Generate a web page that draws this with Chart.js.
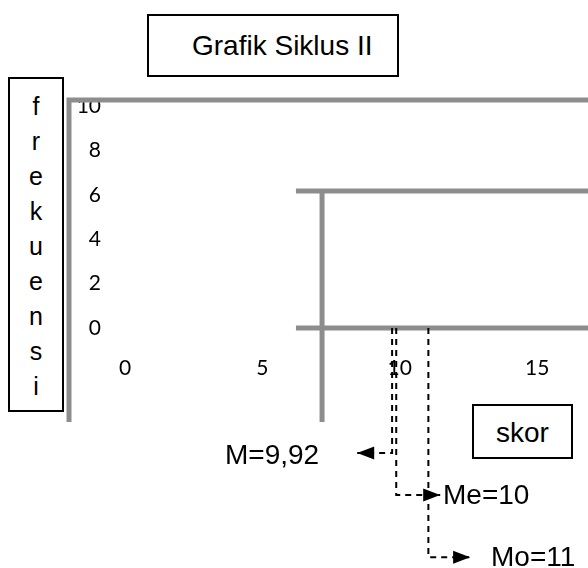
<!DOCTYPE html>
<html>
<head>
<meta charset="utf-8">
<script src="https://cdn.jsdelivr.net/npm/chart.js@4.4.0/dist/chart.umd.min.js"></script>
<style>
  html, body { margin: 0; padding: 0; background: #fff; }
  #wrap { position: relative; width: 588px; height: 568px; overflow: hidden; }
  #grafik { position: absolute; left: 0; top: 0; }
  .kotak { position: absolute; box-sizing: border-box; border: 2px solid #000; background: #fff;
           font-family: "Liberation Sans", Arial, sans-serif; color: #000; white-space: nowrap; }
  .teks { position: absolute; font-family: "Liberation Sans", Arial, sans-serif; font-size: 28px;
          line-height: 32px; color: #000; white-space: nowrap; }
</style>
</head>
<body>
<div id="wrap">
  <canvas id="grafik" width="588" height="568"></canvas>
  <div class="kotak" style="left:147px; top:14px; width:252px; height:63px; font-size:28px; line-height:59px; padding-left:43px;">Grafik Siklus II</div>
  <div class="kotak" style="left:8px; top:77px; width:56px; height:335px; font-size:25px; line-height:35px; padding-top:10px; text-align:center;">f<br>r<br>e<br>k<br>u<br>e<br>n<br>s<br>i</div>
  <div class="kotak" style="left:472px; top:404px; width:101px; height:55px; font-size:28px; line-height:48px; padding-top:3px; text-align:center;">skor</div>
  <div class="teks" style="left:225px; top:439px;">M=9,92</div>
  <div class="teks" style="left:443px; top:479px;">Me=10</div>
  <div class="teks" style="left:491px; top:541px;">Mo=11</div>
</div>
<script>
// sumbu
const xTicks = [0, 5, 10, 15];
const yTicks = [0, 2, 4, 6, 8, 10];

// garis abu-abu (batang grafik)
const garisLuarX = [-2.04, -2.04, 17];
const garisLuarY = [-4.23, 10.27, 10.27];
const garisTengahX = [6.22, 17];
const garisTengahY = [6.17, 6.17];
const tiangX = [7.17, 7.17];
const tiangY = [-4.23, 6.17];
const garisDasarX = [6.22, 17];
const garisDasarY = [0, 0];

// M, Me, Mo (garis putus-putus + panah)
const ukuranX = [9.72, 9.87, 11.04];
const ukuranBarisY = [-5.63, -7.52, -10.32];
const panahX = [8.45, 11.47, 12.56];

const abu = "#8d8d8d";

function titik(xs, ys) {
  return xs.map((x, i) => ({ x: x, y: ys[i] }));
}

function garisAbu(xs, ys) {
  return {
    data: titik(xs, ys),
    showLine: true,
    borderColor: abu,
    borderWidth: 5,
    borderJoinStyle: "miter",
    borderCapStyle: "butt",
    pointRadius: 0,
    clip: false,
  };
}

function garisPutus(i) {
  return {
    data: titik([ukuranX[i], ukuranX[i], panahX[i]], [0, ukuranBarisY[i], ukuranBarisY[i]]),
    showLine: true,
    borderColor: "#000",
    borderWidth: 2,
    borderDash: [6, 5],
    pointRadius: 0,
    clip: false,
  };
}

// panah di ujung garis putus-putus
const arahPanah = [-1, 1, 1];
const panahPlugin = {
  id: "panah",
  afterDatasetsDraw(chart) {
    const ctx = chart.ctx;
    const sx = chart.scales.x;
    const sy = chart.scales.y;
    ctx.save();
    ctx.fillStyle = "#000";
    panahX.forEach((v, i) => {
      const px = sx.getPixelForValue(v);
      const py = sy.getPixelForValue(ukuranBarisY[i]);
      const d = arahPanah[i];
      ctx.beginPath();
      ctx.moveTo(px, py);
      ctx.lineTo(px - d * 17, py - 6.5);
      ctx.lineTo(px - d * 17, py + 6.5);
      ctx.closePath();
      ctx.fill();
    });
    ctx.restore();
  },
};

function nolPadding(s) {
  s.paddingLeft = 0;
  s.paddingRight = 0;
  s.paddingTop = 0;
  s.paddingBottom = 0;
}

new Chart(document.getElementById("grafik"), {
  type: "scatter",
  data: {
    datasets: [
      garisPutus(0),
      garisPutus(1),
      garisPutus(2),
      garisAbu(garisLuarX, garisLuarY),
      garisAbu(garisTengahX, garisTengahY),
      garisAbu(tiangX, tiangY),
      garisAbu(garisDasarX, garisDasarY),
    ],
  },
  options: {
    responsive: false,
    devicePixelRatio: 1,
    animation: false,
    events: [],
    layout: { padding: 0 },
    plugins: {
      legend: { display: false },
      tooltip: { enabled: false },
    },
    scales: {
      x: {
        type: "linear",
        position: "bottom",
        bounds: "data",
        grid: { display: false, drawTicks: false },
        border: { display: false },
        ticks: { color: "#000", font: { family: "Lato", size: 21 }, padding: 2, maxRotation: 0, autoSkip: false },
        afterDataLimits: (s) => { s.min = -0.73; s.max = 16.85; },
        afterBuildTicks: (s) => { s.ticks = xTicks.map((v) => ({ value: v })); },
        afterFit: (s) => { s.height = 214; nolPadding(s); },
      },
      y: {
        type: "linear",
        position: "left",
        bounds: "data",
        grid: { display: false, drawTicks: false },
        border: { display: false },
        ticks: { color: "#000", font: { family: "Lato", size: 21 }, padding: 4, autoSkip: false },
        afterDataLimits: (s) => { s.min = -1.17; s.max = 14.77; },
        afterBuildTicks: (s) => { s.ticks = yTicks.map((v) => ({ value: v })); },
        afterFit: (s) => { s.width = 105; nolPadding(s); },
      },
    },
  },
  plugins: [panahPlugin],
});
</script>
</body>
</html>
